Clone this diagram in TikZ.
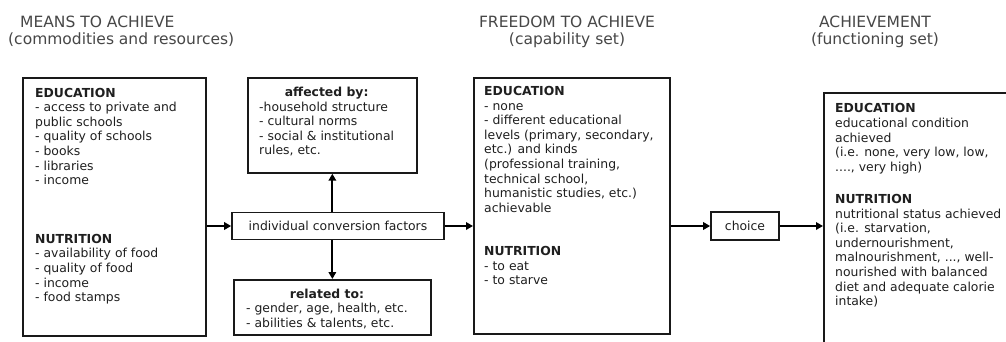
\documentclass[tikz,border=0pt]{standalone}
\usepackage{fontspec}
\setmainfont{DejaVu Sans}
\usetikzlibrary{arrows.meta}
\begin{document}
\begin{tikzpicture}[x=1pt,y=-1pt,
  box/.style={draw=black!90, line width=1.7pt, inner sep=0pt, anchor=north west},
  txt/.style={text=black!88, font=\fontsize{12.4}{14.6}\selectfont},
  body/.style={txt, inner sep=0pt, anchor=base west},
  head/.style={inner sep=0pt, text=black!72, font=\fontsize{15.5}{17}\selectfont},
  arr/.style={line width=1.8pt, -{Triangle[length=7pt,width=7.5pt]}}]
\useasboundingbox (0,0) rectangle (1006,341);
\clip (0,0) rectangle (1006,341);
\fill[white] (0,0) rectangle (1006,341);

% column headings
\node[head, anchor=base west] (meanshead) at (8,27)
  {\begin{tabular}[t]{@{}l@{}}\hspace{12pt}MEANS TO ACHIEVE\\(commodities and resources)\end{tabular}};
\node[head, anchor=base] (freehead) at (567,27)
  {\begin{tabular}[t]{@{}c@{}}FREEDOM TO ACHIEVE\\(capability set)\end{tabular}};
\node[head, anchor=base] (achhead) at (875,27.5)
  {\begin{tabular}[t]{@{}c@{}}ACHIEVEMENT\\(functioning set)\end{tabular}};

% frames
\node[box, minimum width=183pt, minimum height=258pt] (means) at (22,77) {};
\node[box, minimum width=169pt, minimum height=95pt] (aff) at (247,77) {};
\node[box, txt, minimum width=212pt, minimum height=27pt, anchor=center] (icf) at (338,226) {individual conversion factors};
\node[box, minimum width=197pt, minimum height=55pt] (rel) at (233,279) {};
\node[box, minimum width=196pt, minimum height=256pt] (cap) at (473,77) {};
\node[box, txt, minimum width=68pt, minimum height=28pt, anchor=center] (choice) at (745,226) {choice};
\node[box, minimum width=250pt, minimum height=300pt] (ach) at (823,92) {};

% frame contents
\node[body] (meanstxt) at (35,97) {\begin{tabular}[t]{@{}l@{}}
  \textbf{EDUCATION}\\- access to private and\\public schools\\- quality of schools\\- books\\- libraries\\- income\\[44pt]
  \textbf{NUTRITION}\\- availability of food\\- quality of food\\- income\\- food stamps\end{tabular}};

\node[body] (afftxt) at (259,96.5) {\begin{tabular}[t]{@{}l@{}}
  \multicolumn{1}{@{}c@{}}{\textbf{affected by:}}\\-household structure\\- cultural norms\\- social \& institutional\\rules, etc.\end{tabular}};

\node[body] (reltxt) at (246,298) {\begin{tabular}[t]{@{}l@{}}
  \multicolumn{1}{@{}c@{}}{\textbf{related to:}}\\- gender, age, health, etc.\\- abilities \& talents, etc.\end{tabular}};

\node[body] (captxt) at (484,95.5) {\begin{tabular}[t]{@{}l@{}}
  \textbf{EDUCATION}\\- none\\- different educational\\levels (primary, secondary,\\etc.) and kinds\\(professional training,\\technical school,\\humanistic studies, etc.)\\achievable\\[28.5pt]
  \textbf{NUTRITION}\\- to eat\\- to starve\end{tabular}};

\node[body] (achtxt) at (835,112.8) {\begin{tabular}[t]{@{}l@{}}
  \textbf{EDUCATION}\\educational condition\\achieved\\(i.e. none, very low, low,\\...., very high)\\[17.7pt]
  \textbf{NUTRITION}\\nutritional status achieved\\(i.e. starvation,\\undernourishment,\\malnourishment, ..., well-\\nourished with balanced\\diet and adequate calorie\\intake)\end{tabular}};

% connectors
\draw[arr] (means.east |- icf.west) -- (icf.west);
\draw[arr] (icf.north -| aff.south) -- (aff.south);
\draw[arr] (icf.south -| rel.north) -- (rel.north);
\draw[arr] (icf.east) -- (cap.west |- icf.east);
\draw[arr] (cap.east |- choice.west) -- (choice.west);
\draw[arr] (choice.east) -- (ach.west |- choice.east);
\end{tikzpicture}
\end{document}
